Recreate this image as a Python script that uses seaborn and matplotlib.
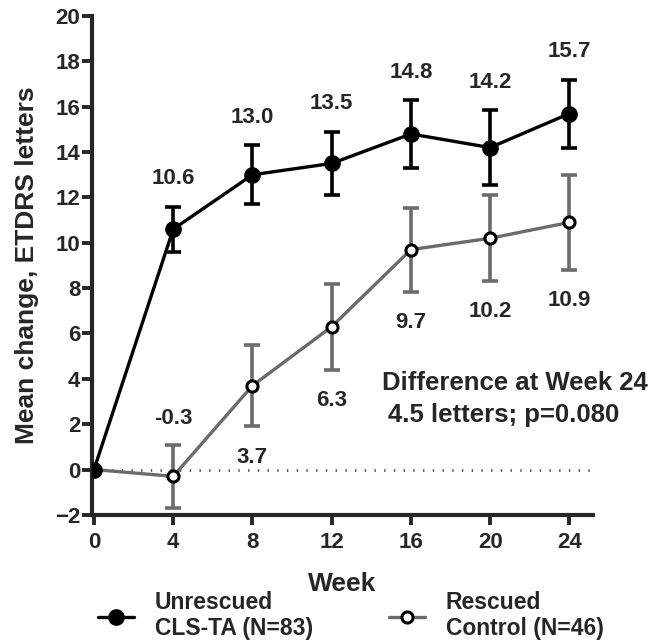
import matplotlib
matplotlib.use("Agg")
import matplotlib.pyplot as plt
import seaborn as sns
import pandas as pd
from matplotlib.lines import Line2D

weeks = [0, 4, 8, 12, 16, 20, 24]
cls_mean = [0.0, 10.6, 13.0, 13.5, 14.8, 14.2, 15.7]
cls_err = [0.0, 1.0, 1.3, 1.4, 1.5, 1.65, 1.5]
resc_mean = [0.0, -0.3, 3.7, 6.3, 9.7, 10.2, 10.9]
resc_err = [0.0, 1.4, 1.8, 1.9, 1.85, 1.9, 2.1]
cls_labels = ["", "10.6", "13.0", "13.5", "14.8", "14.2", "15.7"]
resc_labels = ["", "-0.3", "3.7", "6.3", "9.7", "10.2", "10.9"]
resc_label_above = [False, True, False, False, False, False, False]
series_names = ["Unrescued\nCLS-TA (N=83)", "Rescued\nControl (N=46)"]
yticks = list(range(-2, 21, 2))
xticks = weeks

sns.set_style("ticks")
plt.rcParams['font.family'] = ['Liberation Sans', 'DejaVu Sans']
plt.rcParams['font.weight'] = 'bold'

fig = plt.figure(figsize=(6.62, 6.42), dpi=100)
ax = fig.add_axes([0.139, 0.198, 0.757, 0.777])

df = pd.DataFrame({
    "week": weeks * 2,
    "mean": cls_mean + resc_mean,
    "group": [series_names[0]] * len(weeks) + [series_names[1]] * len(weeks),
})

GRAY = "#6b6b6b"

# zero reference line
ax.axhline(0, color="#555555", lw=2.0, ls=(0, (0.5, 3.0)), zorder=1)

# error bars
ax.errorbar(weeks[1:], resc_mean[1:], yerr=resc_err[1:], fmt="none",
            ecolor=GRAY, elinewidth=2.6, capsize=5.5, capthick=2.6, zorder=2)
ax.errorbar(weeks[1:], cls_mean[1:], yerr=cls_err[1:], fmt="none",
            ecolor="black", elinewidth=2.6, capsize=5.5, capthick=2.6, zorder=4)

sns.lineplot(data=df[df.group == series_names[1]], x="week", y="mean", ax=ax,
             color=GRAY, lw=2.4, marker="o", markersize=8,
             markerfacecolor="white", markeredgecolor="black", markeredgewidth=2.2,
             zorder=3, legend=False)
sns.lineplot(data=df[df.group == series_names[0]], x="week", y="mean", ax=ax,
             color="black", lw=2.4, marker="o", markersize=11,
             markerfacecolor="black", markeredgecolor="black", markeredgewidth=1,
             zorder=5, legend=False)

# value labels
LFS = 16
for w, m, e, lab in zip(weeks, cls_mean, cls_err, cls_labels):
    if lab:
        ax.annotate(lab, (w, m + e), xytext=(0, 20), textcoords="offset points",
                    ha="center", va="center", fontsize=LFS, fontweight="bold")
for w, m, e, lab, above in zip(weeks, resc_mean, resc_err, resc_labels, resc_label_above):
    if lab:
        if above:
            ax.annotate(lab, (w, m + e), xytext=(0, 19), textcoords="offset points",
                        ha="center", va="center", fontsize=LFS, fontweight="bold")
        else:
            ax.annotate(lab, (w, m - e), xytext=(0, -22), textcoords="offset points",
                        ha="center", va="center", fontsize=LFS, fontweight="bold")

ax.text(21.25, 3.83, "Difference at Week 24", ha="center", va="center",
        fontsize=18.5, fontweight="bold", clip_on=False)
ax.text(20.7, 2.42, "4.5 letters; p=0.080", ha="center", va="center",
        fontsize=18.5, fontweight="bold", clip_on=False)

ax.set_xlim(-0.1, 25.2)
ax.set_ylim(-2, 20)
ax.set_xticks(xticks)
ax.set_yticks(yticks)
ax.tick_params(axis="both", width=2.8, length=7, labelsize=16, direction="out")
ax.tick_params(axis="y", pad=1.5)
ax.tick_params(axis="x", pad=5)
for lab in ax.get_xticklabels() + ax.get_yticklabels():
    lab.set_fontweight("bold")
for s in ["left", "bottom"]:
    ax.spines[s].set_linewidth(3)
sns.despine(ax=ax)

ax.set_xlabel("Week", fontsize=19, fontweight="bold")
ax.xaxis.label.set_va("center")
ax.xaxis.set_label_coords(0.5, -0.138)
ax.set_ylabel("Mean change, ETDRS letters", fontsize=19, fontweight="bold")
ax.yaxis.label.set_va("center")
ax.yaxis.set_label_coords(-0.13, 0.5)

handles = [
    Line2D([0], [0], color="black", lw=2.4, marker="o", markersize=11,
           markerfacecolor="black", markeredgecolor="black", markeredgewidth=1),
    Line2D([0], [0], color=GRAY, lw=2.4, marker="o", markersize=8,
           markerfacecolor="white", markeredgecolor="black", markeredgewidth=2.2),
]
leg = fig.legend(handles, series_names, loc="center left", ncol=2,
                 bbox_to_anchor=(0.148, 0.041), frameon=False, fontsize=16.5,
                 borderpad=0, borderaxespad=0,
                 handlelength=1.57, handletextpad=0.92, columnspacing=3.3)
for t in leg.get_texts():
    t.set_fontweight("bold")
    t.set_linespacing(1.15)

fig.savefig("out.png", dpi=100)
